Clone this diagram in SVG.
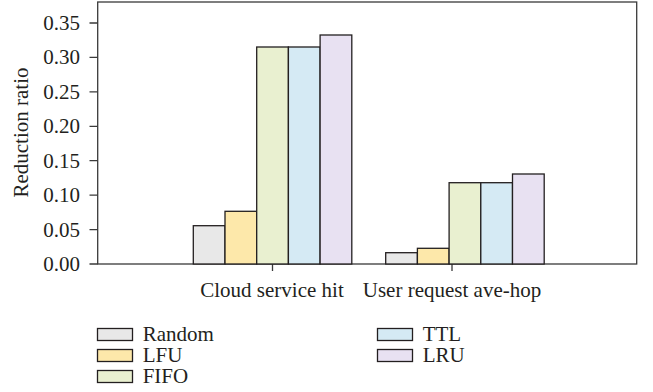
<svg xmlns="http://www.w3.org/2000/svg" width="653" height="392" viewBox="0 0 653 392">
<style>
text{font-family:"Liberation Serif","Times New Roman",serif;font-size:21px;fill:#231f20}
.tl{text-anchor:end}
.c{text-anchor:middle}
.bar{stroke:#231f20;stroke-width:1.3}
.ax{stroke:#3a3a3a;stroke-width:1.3;fill:none}
.r{fill:#e8e8e8}.l{fill:#fde8aa}.f{fill:#e9f0d0}.t{fill:#d5eaf4}.u{fill:#e8e1f2}
</style>
<rect width="653" height="392" fill="#fff"/>
<g id="axes">
<rect class="ax" x="97.7" y="2" width="539" height="262"/>
<path class="ax" d="M89.5 264H97.7M89.5 229.6H97.7M89.5 195.1H97.7M89.5 160.7H97.7M89.5 126.3H97.7M89.5 91.9H97.7M89.5 57.4H97.7M89.5 23H97.7M272.5 264V271M452 264V271"/>
<text class="tl" x="80" y="271">0.00</text>
<text class="tl" x="80" y="236.6">0.05</text>
<text class="tl" x="80" y="202.1">0.10</text>
<text class="tl" x="80" y="167.7">0.15</text>
<text class="tl" x="80" y="133.3">0.20</text>
<text class="tl" x="80" y="98.9">0.25</text>
<text class="tl" x="80" y="64.4">0.30</text>
<text class="tl" x="80" y="30">0.35</text>
<text class="c" transform="translate(28 132.5) rotate(-90)">Reduction ratio</text>
<text class="c" x="272" y="296.7">Cloud service hit</text>
<text class="c" x="452" y="296.7">User request ave-hop</text>
</g>
<g id="group-cloud">
<rect class="bar r" x="193.3" y="225.7" width="31.7" height="38.3"/>
<rect class="bar l" x="225" y="211.3" width="31.7" height="52.7"/>
<rect class="bar f" x="256.7" y="47" width="31.7" height="217"/>
<rect class="bar t" x="288.4" y="47" width="31.7" height="217"/>
<rect class="bar u" x="320.1" y="35" width="31.7" height="229"/>
</g>
<g id="group-user">
<rect class="bar r" x="385.7" y="252.7" width="31.7" height="11.3"/>
<rect class="bar l" x="417.4" y="248.3" width="31.7" height="15.7"/>
<rect class="bar f" x="449.1" y="182.7" width="31.7" height="81.3"/>
<rect class="bar t" x="480.8" y="182.7" width="31.7" height="81.3"/>
<rect class="bar u" x="512.5" y="174" width="31.7" height="90"/>
</g>
<g id="legend">
<rect class="bar r" x="97.5" y="328.5" width="35" height="12"/>
<text x="142.7" y="340.7">Random</text>
<rect class="bar l" x="97.5" y="349.5" width="35" height="12"/>
<text x="142.7" y="361.7">LFU</text>
<rect class="bar f" x="97.5" y="370.5" width="35" height="12"/>
<text x="142.7" y="382.7">FIFO</text>
<rect class="bar t" x="377.5" y="328.5" width="35" height="12"/>
<text x="422.7" y="340.7">TTL</text>
<rect class="bar u" x="377.5" y="349.5" width="35" height="12"/>
<text x="422.7" y="361.7">LRU</text>
</g>
</svg>
